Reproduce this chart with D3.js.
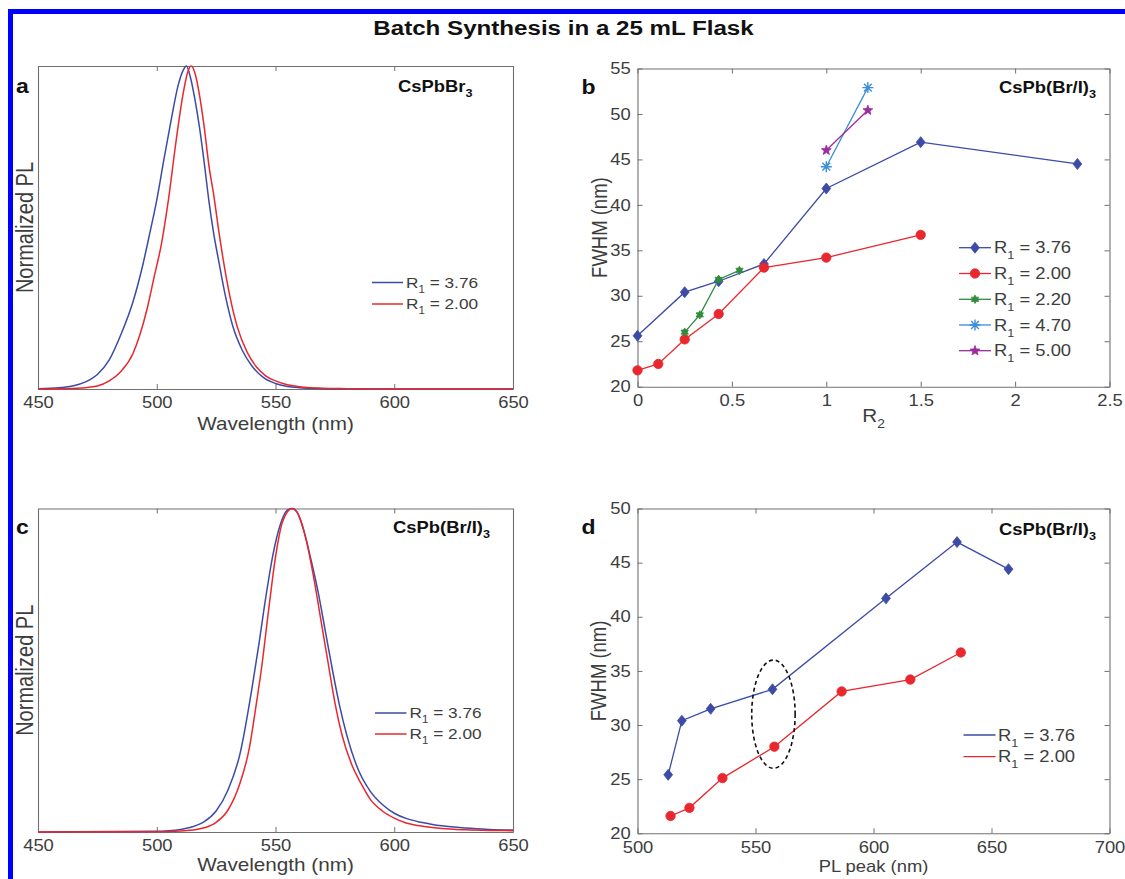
<!DOCTYPE html>
<html><head><meta charset="utf-8">
<script src="https://cdn.jsdelivr.net/npm/d3@7"></script>
<style>html,body{margin:0;padding:0;background:#fff;}svg{display:block;}</style>
</head><body>
<svg id="fig" width="1125" height="879"></svg>
<script>
// ---------------- DATA ----------------
// Panel a: CsPbBr3 normalized PL spectra
const aBlueNm = [450,455,460,465,470,475,480,485,490,494,497,500,503,506,509,511,512.5,514,516,518,520,522,524,526,529,532,536,540,545,550,555,560,570,580,600,650];
const aBluePL = [0.001,0.002,0.005,0.01,0.022,0.045,0.09,0.17,0.27,0.38,0.48,0.585,0.71,0.83,0.94,0.985,1.0,0.97,0.9,0.81,0.70,0.58,0.48,0.40,0.285,0.195,0.12,0.072,0.035,0.017,0.008,0.004,0.001,0,0,0];
const aRedNm = [450,460,470,475,480,485,490,493,496,499,502,505,508,511,513,514.5,516,518,520,522,524,526,528,531,534,538,542,546,550,555,560,570,580,600,650];
const aRedPL = [0,0.001,0.004,0.009,0.025,0.055,0.11,0.17,0.25,0.35,0.45,0.59,0.76,0.91,0.98,1.0,0.98,0.91,0.81,0.69,0.60,0.495,0.40,0.28,0.19,0.115,0.068,0.04,0.025,0.013,0.007,0.002,0.001,0,0];
// Panel c: CsPb(Br/I)3 normalized PL spectra
const cBlueNm = [450,500,505,510,515,520,525,530,535,540,543,546,549,552,555,557,559,562,565,568,571,574,577,580,585,590,595,600,605,610,615,620,630,640,650];
const cBluePL = [0,0.002,0.004,0.008,0.016,0.032,0.065,0.13,0.24,0.44,0.58,0.73,0.86,0.95,0.995,1.0,0.99,0.93,0.84,0.74,0.62,0.50,0.39,0.30,0.19,0.125,0.085,0.058,0.042,0.032,0.025,0.019,0.012,0.008,0.006];
const cRedNm = [450,500,510,515,520,525,530,535,539,542,544,547,550,553,557,560,563,566,569,572,575,578,582,586,590,595,600,605,610,620,630,640,650];
const cRedPL = [0,0.001,0.003,0.006,0.013,0.03,0.068,0.15,0.26,0.40,0.50,0.68,0.85,0.96,1.0,0.975,0.90,0.79,0.66,0.53,0.40,0.30,0.21,0.15,0.10,0.065,0.043,0.028,0.02,0.011,0.007,0.005,0.004];
// Panel b: FWHM vs R2
const bR2_376 = [0,0.25,0.43,0.67,1,1.5,2.33];
const bFW_376 = [25.6,30.4,31.6,33.5,41.8,46.9,44.5];
const bR2_200 = [0,0.11,0.25,0.43,0.67,1,1.5];
const bFW_200 = [21.8,22.5,25.2,28.0,33.1,34.2,36.7];
const bR2_220 = [0.25,0.33,0.43,0.54];
const bFW_220 = [26.0,27.9,31.8,32.8];
const bR2_470 = [1,1.22];
const bFW_470 = [44.2,52.9];
const bR2_500 = [1,1.22];
const bFW_500 = [46.0,50.4];
// Panel d: FWHM vs PL peak
const dPeak_376 = [513,518.8,531,557.2,605.3,635.4,657.2];
const dFW_376 = [25.4,30.4,31.5,33.3,41.7,46.9,44.4];
const dPeak_200 = [514,522,536,558,586.5,615.6,637];
const dFW_200 = [21.6,22.35,25.1,28.0,33.1,34.2,36.7];
const dEllipse = {cx:557.6, cy:31.0, rx:9.2, ry:5.0};
// Ticks and labels
const specTicks = [450,500,550,600,650];
const bXTicks = [0,0.5,1,1.5,2,2.5];
const bYTicks = [20,25,30,35,40,45,50,55];
const dXTicks = [500,550,600,650,700];
const dYTicks = [20,25,30,35,40,45,50];
const legendR1 = ["3.76","2.00","2.20","4.70","5.00"];
const titleText = "Batch Synthesis in a 25 mL Flask";

// ---------------- STYLE ----------------
const FONT = '"Liberation Sans", Arial, Helvetica, sans-serif';
const SX = 1.15;
const AX = "#707070", TXT = "#3d3d3d";
const BLUE = "#3b4ba6", RED = "#e9272e", GREEN = "#2f8c3c", LBLUE = "#3a8fd8", PURPLE = "#9b2c9c";

const svg = d3.select("#fig");
svg.append("rect").attr("width",1125).attr("height",879).attr("fill","#fff");
// blue frame
svg.append("rect").attr("x",8).attr("y",9).attr("width",1117).attr("height",5).attr("fill","#0000ff");
svg.append("rect").attr("x",8).attr("y",9).attr("width",5).attr("height",870).attr("fill","#0000ff");

function addText(parent, x, y, parts, o = {}) {
  const size = o.size || 16;
  const tf = `translate(${x},${y})` + (o.rotate ? ` rotate(${o.rotate}) scale(1,${SX})` : ` scale(${SX},1)`);
  const g = parent.append("g").attr("transform", tf);
  const t = g.append("text").attr("font-family", FONT).attr("font-size", size)
    .attr("font-weight", o.weight || "normal").attr("fill", o.fill || TXT)
    .attr("text-anchor", o.anchor || "start");
  let shift = 0;
  parts.forEach(p => {
    if (typeof p === "string") p = {t: p};
    const ts = t.append("tspan").text(p.t);
    if (p.sub) {
      const d = o.subDy || size * 0.33;
      ts.attr("font-size", o.subSize || size * 0.68).attr("dy", d - shift);
      shift = d;
    } else {
      if (shift) ts.attr("dy", -shift);
      shift = 0;
    }
  });
  return t;
}

function styleAxis(sel) {
  sel.attr("font-family", FONT).attr("font-size", 16).attr("color", AX);
  sel.select(".domain").attr("stroke", AX).attr("stroke-width", 1.1);
  sel.selectAll(".tick line").attr("stroke-width", 1);
  sel.selectAll(".tick text").attr("fill", TXT).attr("transform", `scale(${SX},1)`);
}

function frame(x, y, xt, yt, fmt) {
  const [x0, x1] = x.range();
  const [y1, y0] = y.range();
  svg.append("g").attr("transform", `translate(0,${y1})`)
    .call(d3.axisBottom(x).tickValues(xt).tickFormat(fmt).tickSize(-5).tickSizeOuter(0).tickPadding(8)).call(styleAxis);
  svg.append("g").attr("transform", `translate(0,${y0})`)
    .call(d3.axisTop(x).tickValues(xt).tickFormat("").tickSize(-5).tickSizeOuter(0)).call(styleAxis);
  svg.append("g").attr("transform", `translate(${x0},0)`)
    .call(d3.axisLeft(y).tickValues(yt).tickFormat(d => String(d)).tickSize(-5).tickSizeOuter(0).tickPadding(6)).call(styleAxis);
  svg.append("g").attr("transform", `translate(${x1},0)`)
    .call(d3.axisRight(y).tickValues(yt).tickFormat("").tickSize(-5).tickSizeOuter(0)).call(styleAxis);
}

// custom marker shapes (size = radius in px)
const mkDiamond = {draw(c, r){ c.moveTo(0,-r); c.lineTo(r*0.8,0); c.lineTo(0,r); c.lineTo(-r*0.8,0); c.closePath(); }};
const mkCircle = {draw(c, r){ c.moveTo(r,0); c.arc(0,0,r,0,2*Math.PI); }};
const mkHex = {draw(c, r){ for (let i=0;i<12;i++){ const a=-Math.PI/2+i*Math.PI/6, rr=i%2?r*0.58:r; const px=rr*Math.cos(a), py=rr*Math.sin(a); i?c.lineTo(px,py):c.moveTo(px,py);} c.closePath(); }};
const mkStar = {draw(c, r){ for (let i=0;i<10;i++){ const a=-Math.PI/2+i*Math.PI/5, rr=i%2?r*0.42:r; const px=rr*Math.cos(a), py=rr*Math.sin(a); i?c.lineTo(px,py):c.moveTo(px,py);} c.closePath(); }};
const mkAst = {draw(c, r){ for (let i=0;i<4;i++){ const a=i*Math.PI/4; c.moveTo(-r*Math.cos(a),-r*Math.sin(a)); c.lineTo(r*Math.cos(a),r*Math.sin(a)); } }};

function drawMarker(g, type, r, color, px, py, stroke) {
  const p = g.append("path").attr("d", d3.symbol(type, r)()).attr("transform", `translate(${px},${py})`);
  if (stroke) p.attr("fill","none").attr("stroke",color).attr("stroke-width",1.4);
  else p.attr("fill",color).attr("stroke",color).attr("stroke-width",0.8);
}

// ---------------- TITLE ----------------
addText(svg, 563.5, 34.5, [titleText], {size: 21, weight: "bold", fill: "#111", anchor: "middle"});

// ---------------- SPECTRA PANELS (a, c) ----------------
function spectraPanel(box, blueNm, bluePL, redNm, redPL, letter, compParts, compPos, legY, legX) {
  const x = d3.scaleLinear().domain([450,650]).range([box.x0, box.x1]);
  const y = d3.scaleLinear().domain([0,1]).range([box.y1, box.y0]);
  frame(x, y, specTicks, [], d => String(d));
  const line = d3.line().x(d => x(d[0])).y(d => y(d[1])).curve(d3.curveMonotoneX);
  svg.append("path").datum(d3.zip(blueNm, bluePL)).attr("d", line).attr("fill","none").attr("stroke",BLUE).attr("stroke-width",1.5);
  svg.append("path").datum(d3.zip(redNm, redPL)).attr("d", line).attr("fill","none").attr("stroke",RED).attr("stroke-width",1.5);
  addText(svg, 16, box.letterY, [letter], {size: 20, weight: "bold", fill: "#111"});
  addText(svg, compPos[0], compPos[1], compParts, {size: 16, weight: "bold", fill: "#111", subSize: 11, subDy: 5});
  addText(svg, (box.x0 + box.x1) / 2, box.xtY, ["Wavelength (nm)"], {size: 18, anchor: "middle"});
  addText(svg, 33, (box.y0 + box.y1) / 2, ["Normalized PL"], {size: 20, anchor: "middle", rotate: -90});
  const cols = [BLUE, RED];
  [0,1].forEach(i => {
    svg.append("line").attr("x1", legX[0]).attr("x2", legX[1]).attr("y1", legY[i]).attr("y2", legY[i])
      .attr("stroke", cols[i]).attr("stroke-width", 1.5);
    addText(svg, legX[2], legY[i] + 5, ["R", {t:"1", sub:true}, " = " + legendR1[i]], {size: 15, subSize: 10, subDy: 5});
  });
}

spectraPanel({x0:38, x1:513, y0:66, y1:389, letterY:93, xtY:429.5}, aBlueNm, aBluePL, aRedNm, aRedPL, "a",
  ["CsPbBr", {t:"3", sub:true}], [398, 92], [282.5, 304], [372, 403, 406]);
spectraPanel({x0:38, x1:513, y0:508.5, y1:832, letterY:534, xtY:871}, cBlueNm, cBluePL, cRedNm, cRedPL, "c",
  ["CsPb(Br/I)", {t:"3", sub:true}], [393, 533], [713, 734], [375, 406.5, 409.5]);

// ---------------- PANEL b ----------------
(function(){
  const box = {x0:637.5, x1:1109.5, y0:68.5, y1:386.7};
  const x = d3.scaleLinear().domain([0,2.5]).range([box.x0, box.x1]);
  const y = d3.scaleLinear().domain([20,55]).range([box.y1, box.y0]);
  frame(x, y, bXTicks, bYTicks, d => String(d));
  const series = [
    {xs:bR2_376, ys:bFW_376, c:BLUE, m:mkDiamond, r:5.5},
    {xs:bR2_200, ys:bFW_200, c:RED, m:mkCircle, r:4.7},
    {xs:bR2_220, ys:bFW_220, c:GREEN, m:mkHex, r:4.2},
    {xs:bR2_470, ys:bFW_470, c:LBLUE, m:mkAst, r:5.5, stroke:true},
    {xs:bR2_500, ys:bFW_500, c:PURPLE, m:mkStar, r:5.2}
  ];
  const line = d3.line().x(d => x(d[0])).y(d => y(d[1]));
  series.forEach(s => {
    const pts = d3.zip(s.xs, s.ys);
    svg.append("path").datum(pts).attr("d", line).attr("fill","none").attr("stroke", s.c).attr("stroke-width", 1.3);
    const g = svg.append("g");
    pts.forEach(p => drawMarker(g, s.m, s.r, s.c, x(p[0]), y(p[1]), s.stroke));
  });
  const legYs = [247.7, 273.5, 299.3, 325, 350.7];
  series.forEach((s, i) => {
    svg.append("line").attr("x1", 959).attr("x2", 991).attr("y1", legYs[i]).attr("y2", legYs[i]).attr("stroke", s.c).attr("stroke-width", 1.3);
    drawMarker(svg, s.m, s.r, s.c, 975, legYs[i], s.stroke);
    addText(svg, 994, legYs[i] + 5.5, ["R", {t:"1", sub:true}, " = " + legendR1[i]], {size: 16, subSize: 11, subDy: 6});
  });
  addText(svg, 581.5, 94, ["b"], {size: 20, weight: "bold", fill: "#111"});
  addText(svg, 999, 93, ["CsPb(Br/I)", {t:"3", sub:true}], {size: 16, weight: "bold", fill: "#111", subSize: 11, subDy: 5});
  addText(svg, (box.x0 + box.x1) / 2, 421.5, ["R", {t:"2", sub:true}], {size: 18, anchor: "middle", subSize: 12, subDy: 6});
  addText(svg, 606.5, (box.y0 + box.y1) / 2, ["FWHM (nm)"], {size: 18.5, anchor: "middle", rotate: -90});
})();

// ---------------- PANEL d ----------------
(function(){
  const box = {x0:637.5, x1:1109.5, y0:508.5, y1:833.3};
  const x = d3.scaleLinear().domain([500,700]).range([box.x0, box.x1]);
  const y = d3.scaleLinear().domain([20,50]).range([box.y1, box.y0]);
  frame(x, y, dXTicks, dYTicks, d => String(d));
  const series = [
    {xs:dPeak_376, ys:dFW_376, c:BLUE, m:mkDiamond, r:5.5},
    {xs:dPeak_200, ys:dFW_200, c:RED, m:mkCircle, r:4.7}
  ];
  const line = d3.line().x(d => x(d[0])).y(d => y(d[1]));
  series.forEach(s => {
    const pts = d3.zip(s.xs, s.ys);
    svg.append("path").datum(pts).attr("d", line).attr("fill","none").attr("stroke", s.c).attr("stroke-width", 1.3);
    const g = svg.append("g");
    pts.forEach(p => drawMarker(g, s.m, s.r, s.c, x(p[0]), y(p[1])));
  });
  svg.append("ellipse").attr("cx", x(dEllipse.cx)).attr("cy", y(dEllipse.cy))
    .attr("rx", x(dEllipse.cx + dEllipse.rx) - x(dEllipse.cx)).attr("ry", y(dEllipse.cy - dEllipse.ry) - y(dEllipse.cy))
    .attr("fill","none").attr("stroke","#111").attr("stroke-width",1.6).attr("stroke-dasharray","4,3");
  const legYs = [735, 756.7];
  series.forEach((s, i) => {
    svg.append("line").attr("x1", 963.5).attr("x2", 995.5).attr("y1", legYs[i]).attr("y2", legYs[i]).attr("stroke", s.c).attr("stroke-width", 1.3);
    addText(svg, 998, legYs[i] + 5.5, ["R", {t:"1", sub:true}, " = " + legendR1[i]], {size: 16, subSize: 11, subDy: 6});
  });
  addText(svg, 581.5, 534, ["d"], {size: 20, weight: "bold", fill: "#111"});
  addText(svg, 999, 535, ["CsPb(Br/I)", {t:"3", sub:true}], {size: 16, weight: "bold", fill: "#111", subSize: 11, subDy: 5});
  addText(svg, (box.x0 + box.x1) / 2, 872, ["PL peak (nm)"], {size: 16, anchor: "middle"});
  addText(svg, 605.5, (box.y0 + box.y1) / 2, ["FWHM (nm)"], {size: 18.5, anchor: "middle", rotate: -90});
})();
</script>
</body></html>
